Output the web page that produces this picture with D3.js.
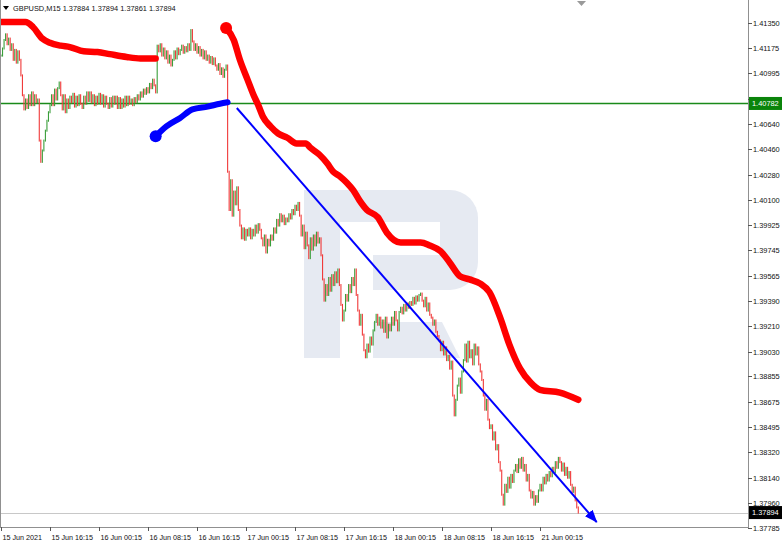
<!DOCTYPE html>
<html><head><meta charset="utf-8">
<script src="https://cdn.jsdelivr.net/npm/d3@7"></script>
<style>body{margin:0;background:#fff}svg{display:block}text{font-family:"Liberation Sans",Arial,sans-serif}</style>
</head><body><svg id="c" width="782" height="545"></svg>
<script>
// ---------- data ----------
const symbolTitle = "GBPUSD,M15";
const headerValues = ["1.37884", "1.37894", "1.37861", "1.37894"];
const timeLabels = ["15 Jun 2021","15 Jun 16:15","16 Jun 00:15","16 Jun 08:15","16 Jun 16:15","17 Jun 00:15","17 Jun 08:15","17 Jun 16:15","18 Jun 00:15","18 Jun 08:15","18 Jun 16:15","21 Jun 00:15"];
const timeLabelBars = [0,32,64,96,128,160,192,224,256,288,320,352];
const priceTicks = [1.41350,1.41175,1.40995,1.40815,1.40640,1.40460,1.40280,1.40100,1.39925,1.39745,1.39565,1.39390,1.39210,1.39030,1.38855,1.38675,1.38495,1.38320,1.38140,1.37960,1.37785];
const closes = [
1.4112,1.4117,1.4123,1.4127,1.4120,1.4124,1.4116,1.4120,1.4109,1.4116,
1.4107,1.4115,1.4109,1.4098,1.4084,1.4074,1.4081,1.4075,1.4084,1.4077,
1.4086,1.4077,1.4084,1.4079,1.4081,1.4052,1.4037,1.4045,1.4052,1.4059,
1.4066,1.4072,1.4077,1.4084,1.4077,1.4088,1.4081,1.4089,1.4093,1.4084,
1.4074,1.4084,1.4072,1.4081,1.4075,1.4083,1.4079,1.4085,1.4076,1.4083,
1.4077,1.4084,1.4078,1.4075,1.4083,1.4078,1.4086,1.4080,1.4086,1.4079,
1.4084,1.4077,1.4083,1.4078,1.4085,1.4078,1.4084,1.4076,1.4083,1.4078,
1.4075,1.4082,1.4076,1.4083,1.4078,1.4083,1.4075,1.4082,1.4075,1.4081,
1.4076,1.4083,1.4077,1.4083,1.4078,1.4081,1.4077,1.4082,1.4079,1.4084,
1.4081,1.4086,1.4083,1.4088,1.4085,1.4089,1.4086,1.4092,1.4089,1.4095,
1.4091,1.4086,1.4119,1.4115,1.4120,1.4112,1.4117,1.4110,1.4115,1.4107,
1.4112,1.4105,1.4109,1.4115,1.4110,1.4117,1.4113,1.4116,1.4119,1.4114,
1.4118,1.4115,1.4120,1.4116,1.4130,1.4122,1.4116,1.4120,1.4114,1.4118,
1.4112,1.4116,1.4110,1.4115,1.4109,1.4112,1.4107,1.4111,1.4106,1.4110,
1.4105,1.4102,1.4106,1.4099,1.4103,1.4097,1.4102,1.4105,1.4030,1.4003,
1.4024,1.3999,1.4016,1.4007,1.4019,1.4003,1.3992,1.3983,1.3990,1.3982,
1.3989,1.3985,1.3990,1.3983,1.3989,1.3985,1.3992,1.3987,1.3993,1.3989,
1.3983,1.3978,1.3985,1.3973,1.3982,1.3978,1.3985,1.3982,1.3990,1.3987,
1.3996,1.3992,1.4000,1.3995,1.3999,1.3993,1.3997,1.3995,1.4000,1.3997,
1.4003,1.4000,1.4006,1.4003,1.4008,1.3999,1.3985,1.3992,1.3976,1.3987,
1.3978,1.3969,1.3983,1.3975,1.3985,1.3978,1.3987,1.3980,1.3983,1.3971,
1.3954,1.3939,1.3950,1.3943,1.3955,1.3946,1.3957,1.3950,1.3959,1.3952,
1.3961,1.3950,1.3936,1.3925,1.3932,1.3943,1.3939,1.3950,1.3945,1.3955,
1.3950,1.3961,1.3943,1.3932,1.3922,1.3929,1.3915,1.3904,1.3899,1.3908,
1.3903,1.3913,1.3908,1.3918,1.3924,1.3929,1.3922,1.3927,1.3920,1.3925,
1.3917,1.3927,1.3913,1.3922,1.3918,1.3927,1.3922,1.3931,1.3925,1.3918,
1.3931,1.3934,1.3930,1.3936,1.3932,1.3937,1.3934,1.3938,1.3936,1.3941,
1.3937,1.3942,1.3939,1.3943,1.3944,1.3939,1.3935,1.3941,1.3932,1.3937,
1.3929,1.3927,1.3922,1.3925,1.3917,1.3914,1.3911,1.3904,1.3910,1.3901,
1.3906,1.3897,1.3900,1.3891,1.3896,1.3872,1.3858,1.3869,1.3879,1.3884,
1.3874,1.3889,1.3897,1.3908,1.3896,1.3910,1.3899,1.3904,1.3894,1.3908,
1.3901,1.3906,1.3894,1.3889,1.3883,1.3872,1.3862,1.3869,1.3855,1.3849,
1.3851,1.3841,1.3846,1.3834,1.3837,1.3825,1.3819,1.3802,1.3795,1.3809,
1.3804,1.3814,1.3807,1.3816,1.3811,1.3819,1.3823,1.3818,1.3827,1.3821,
1.3828,1.3819,1.3823,1.3812,1.3816,1.3805,1.3800,1.3804,1.3795,1.3801,
1.3797,1.3805,1.3809,1.3805,1.3814,1.3810,1.3816,1.3812,1.3818,1.3815,
1.3821,1.3818,1.3825,1.3821,1.3828,1.3825,1.3819,1.3824,1.3816,1.3821,
1.3814,1.3818,1.3809,1.3804,1.3807,1.3798,1.3793,1.37894];
// red indicator, first segment [bar, price]
const redLine1 = [[0,1.41357],[16,1.41357],[21,1.4132],[27,1.4124],[32,1.4121],[39,1.4119],[45,1.4118],[54,1.4115],[63,1.41145],[71,1.4113],[82,1.4111],[91,1.4110],[101,1.4110]];
// red indicator, second segment
const redLine2 = [[147,1.41315],[152,1.4123],[156,1.4109],[161,1.4095],[165,1.4084],[168,1.4077],[171,1.4069],[176,1.4062],[181,1.4057],[187,1.4054],[193,1.4050],[199,1.4050],[202,1.4047],[208,1.4042],[213,1.4036],[217,1.4030],[221,1.4027],[226,1.4022],[230,1.4017],[234,1.4010],[239,1.4003],[246,1.3998],[252,1.3987],[261,1.3980],[274,1.3980],[280,1.3978],[287,1.3974],[293,1.3966],[300,1.3956],[306,1.3954],[313,1.3951],[319,1.3945],[326,1.3927],[332,1.3908],[339,1.3891],[346,1.3881],[352,1.3876],[365,1.3874],[377,1.3869]];
// blue indicator
const blueLine = [[101,1.4055],[108,1.4062],[117,1.4068],[125,1.4074],[135,1.4076],[143,1.4078],[148,1.4079]];
const trendLine = [[154,1.40750],[389,1.37827]];
const levelPrice = 1.40782;
const lastPrice = 1.37894;

// ---------- drawing ----------
const svg = d3.select('#c');
const PR = 748, PB = 527;
const x = d3.scaleLinear().domain([0, 352]).range([1, 540]);
const y = d3.scaleLinear().domain([1.37785, 1.41350]).range([528, 23]);
const fmt = d3.format('.5f');

svg.append('defs').append('clipPath').attr('id','clip')
  .append('rect').attr('x',0).attr('y',0).attr('width',PR).attr('height',PB);

// watermark
const wm = svg.append('g').attr('fill','#e6eaf2');
wm.append('path').attr('d','M304,190 H450 A28,28 0 0 1 478,218 V262 A28,28 0 0 1 450,290 H304 Z');
wm.append('rect').attr('x',304).attr('y',290).attr('width',36).attr('height',68);
wm.append('path').attr('d','M373,322 H442 L460,358 H373 Z');
const wmh = svg.append('g').attr('fill','#fff');
wmh.append('rect').attr('x',340).attr('y',222).attr('width',100).attr('height',33);
wmh.append('rect').attr('x',340).attr('y',255).attr('width',33).attr('height',35);

const g = svg.append('g').attr('clip-path','url(#clip)');

// level line
g.append('line').attr('x1',0).attr('x2',PR).attr('y1',y(levelPrice)).attr('y2',y(levelPrice))
  .attr('stroke','#1a8a1a').attr('stroke-width',1.6);
// last price line
g.append('line').attr('x1',0).attr('x2',PR).attr('y1',Math.round(y(lastPrice))+0.5).attr('y2',Math.round(y(lastPrice))+0.5)
  .attr('stroke','#c8c8c8').attr('stroke-width',1);

// candles
const bars = closes.map((c,i)=>({i, o: i ? closes[i-1] : c, c}));
g.selectAll('rect.cd').data(bars).join('rect').attr('class','cd')
  .attr('x', d=>x(d.i)-0.55).attr('width',1.1)
  .attr('y', d=>Math.min(y(d.o),y(d.c))-1)
  .attr('height', d=>Math.abs(y(d.o)-y(d.c))+2)
  .attr('fill', d=> d.c>=d.o ? '#3a9e3a' : '#f03a3a');

// indicators
const line = d3.line().x(d=>x(d[0])).y(d=>y(d[1])).curve(d3.curveMonotoneX);
[redLine1, redLine2].forEach(s=>{
  g.append('path').attr('d', line(s)).attr('fill','none').attr('stroke','#ff0000')
    .attr('stroke-width',6.5).attr('stroke-linecap','round').attr('stroke-linejoin','round');
});
g.append('circle').attr('cx',x(redLine2[0][0])).attr('cy',y(redLine2[0][1])).attr('r',6).attr('fill','#ff0000');
g.append('path').attr('d', line(blueLine)).attr('fill','none').attr('stroke','#0000ff')
  .attr('stroke-width',6).attr('stroke-linecap','round');
g.append('circle').attr('cx',x(blueLine[0][0])).attr('cy',y(blueLine[0][1])).attr('r',6).attr('fill','#0000ff');

// trend arrow
svg.select('defs').append('marker').attr('id','arr').attr('markerUnits','userSpaceOnUse')
  .attr('markerWidth',14).attr('markerHeight',12).attr('refX',12).attr('refY',5).attr('orient','auto')
  .append('path').attr('d','M0,0 L13,5 L0,10 Z').attr('fill','#0000ff');
svg.append('line').attr('x1',x(trendLine[0][0])).attr('y1',y(trendLine[0][1]))
  .attr('x2',x(trendLine[1][0])).attr('y2',y(trendLine[1][1]))
  .attr('stroke','#0000ff').attr('stroke-width',2).attr('marker-end','url(#arr)');

// frame
svg.append('line').attr('x1',PR+0.5).attr('x2',PR+0.5).attr('y1',0).attr('y2',PB+1).attr('stroke','#909090');
svg.append('line').attr('x1',0).attr('x2',PR+1).attr('y1',PB+0.5).attr('y2',PB+0.5).attr('stroke','#909090');
svg.append('line').attr('x1',0.5).attr('x2',0.5).attr('y1',0).attr('y2',PB+1).attr('stroke','#909090');

// right axis
const ra = svg.append('g');
priceTicks.forEach(t=>{
  const yy = Math.round(y(t))+0.5;
  ra.append('line').attr('x1',PR).attr('x2',PR+4).attr('y1',yy).attr('y2',yy).attr('stroke','#555');
  ra.append('text').attr('x',753).attr('y',yy).attr('dy','0.35em').attr('font-size',7.4).attr('fill','#111').text(fmt(t));
});
// level label
const ly = y(levelPrice);
ra.append('rect').attr('x',749).attr('y',ly-6.5).attr('width',33).attr('height',13).attr('fill','#0a840a');
ra.append('text').attr('x',752).attr('y',ly).attr('dy','0.35em').attr('font-size',7.4).attr('fill','#fff').text(fmt(levelPrice));
const lp = y(lastPrice);
ra.append('rect').attr('x',749).attr('y',lp-6.5).attr('width',33).attr('height',13).attr('fill','#000');
ra.append('text').attr('x',752).attr('y',lp).attr('dy','0.35em').attr('font-size',7.4).attr('fill','#fff').text(fmt(lastPrice));

// bottom axis
const ba = svg.append('g');
timeLabelBars.forEach((b,k)=>{
  const xx = Math.round(x(b))+0.5;
  ba.append('line').attr('x1',xx).attr('x2',xx).attr('y1',PB).attr('y2',PB+4).attr('stroke','#555');
  ba.append('text').attr('x',xx+1).attr('y',540).attr('font-size',7.2).attr('fill','#111').text(timeLabels[k]);
});

// header
svg.append('path').attr('d','M3,6 L9,6 L6,10 Z').attr('fill','#000');
svg.append('text').attr('x',13).attr('y',11).attr('font-size',7.4).attr('fill','#111')
  .text(symbolTitle + '  ' + headerValues.join(' '));
svg.append('path').attr('d','M577,1 L586,1 L581.5,6 Z').attr('fill','#9a9a9a');
</script></body></html>
